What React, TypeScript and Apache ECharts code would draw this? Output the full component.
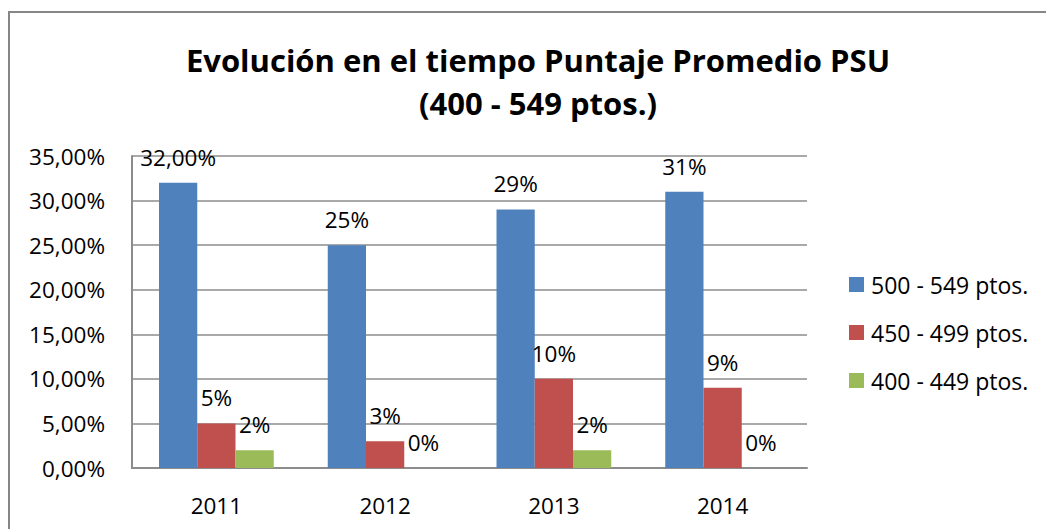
import React, { useEffect, useRef } from "react";
import * as echarts from "echarts";

const categories = ["2011", "2012", "2013", "2014"];
const seriesNames = ["500 - 549 ptos.", "450 - 499 ptos.", "400 - 449 ptos."];
const values500 = [32, 25, 29, 31];
const values450 = [5, 3, 10, 9];
const values400 = [2, 0, 2, 0];
const colors = ["#4F81BD", "#C0504D", "#9BBB59"];
const yTicks = { min: 0, max: 35, interval: 5 };

const FONT = "Open Sans";

export default function App() {
  const ref = useRef<HTMLDivElement>(null);
  useEffect(() => {
    if (!ref.current) return;
    const chart = echarts.init(ref.current, null, { renderer: "svg" });
    const labelFmt = (p: any) =>
      p.seriesIndex === 0 && p.dataIndex === 0
        ? p.value.toFixed(2).replace(".", ",") + "%"
        : p.value + "%";
    const mk = (name: string, data: number[], color: string) => ({
      name,
      type: "bar",
      data,
      barGap: "0%",
      barCategoryGap: "32%",
      itemStyle: { color },
      label: {
        show: true,
        position: "top",
        distance: 14,
        formatter: labelFmt,
        color: "#000",
        fontFamily: FONT,
        fontSize: 22.5,
      },
    });
    chart.setOption({
      animation: false,
      backgroundColor: "#fff",
      title: {
        text: "Evolución en el tiempo Puntaje Promedio PSU\n(400 - 549 ptos.)",
        left: 533,
        textAlign: "center",
        top: 33,
        textStyle: {
          fontFamily: FONT,
          fontWeight: "bold",
          fontSize: 31,
          lineHeight: 43,
          color: "#000",
        },
      },
      graphic: [
        {
          type: "rect",
          shape: { x: 9, y: 12, width: 1200, height: 700 },
          style: { fill: "none", stroke: "#868686", lineWidth: 2 },
          silent: true,
        },
      ],
      legend: {
        orient: "vertical",
        left: 844,
        top: 268,
        itemWidth: 15,
        itemHeight: 15,
        itemGap: 25,
        icon: "rect",
        data: seriesNames,
        textStyle: {
          fontFamily: FONT,
          fontSize: 23,
          lineHeight: 23,
          color: "#000",
          padding: [0, 0, 0, 2],
        },
      },
      grid: { left: 132, right: 239, top: 156, bottom: 61 },
      xAxis: {
        type: "category",
        data: categories,
        axisLine: { lineStyle: { color: "#8c8c8c", width: 2 } },
        axisTick: { show: false },
        axisLabel: { fontFamily: FONT, fontSize: 22.5, color: "#000", margin: 26 },
      },
      yAxis: {
        type: "value",
        min: yTicks.min,
        max: yTicks.max,
        interval: yTicks.interval,
        axisLine: { show: true, lineStyle: { color: "#8c8c8c", width: 2 } },
        axisTick: { show: false },
        splitLine: { lineStyle: { color: "#8c8c8c", width: 1.5 } },
        axisLabel: {
          fontFamily: FONT,
          fontSize: 22.5,
          color: "#000",
          margin: 27,
          formatter: (v: number) => v.toFixed(2).replace(".", ",") + "%",
        },
      },
      series: [
        mk(seriesNames[0], values500, colors[0]),
        mk(seriesNames[1], values450, colors[1]),
        mk(seriesNames[2], values400, colors[2]),
      ],
    });
    return () => chart.dispose();
  }, []);
  return (
    <div
      ref={ref}
      style={{ position: "absolute", left: 0, top: 0, width: 1046, height: 529 }}
    />
  );
}
